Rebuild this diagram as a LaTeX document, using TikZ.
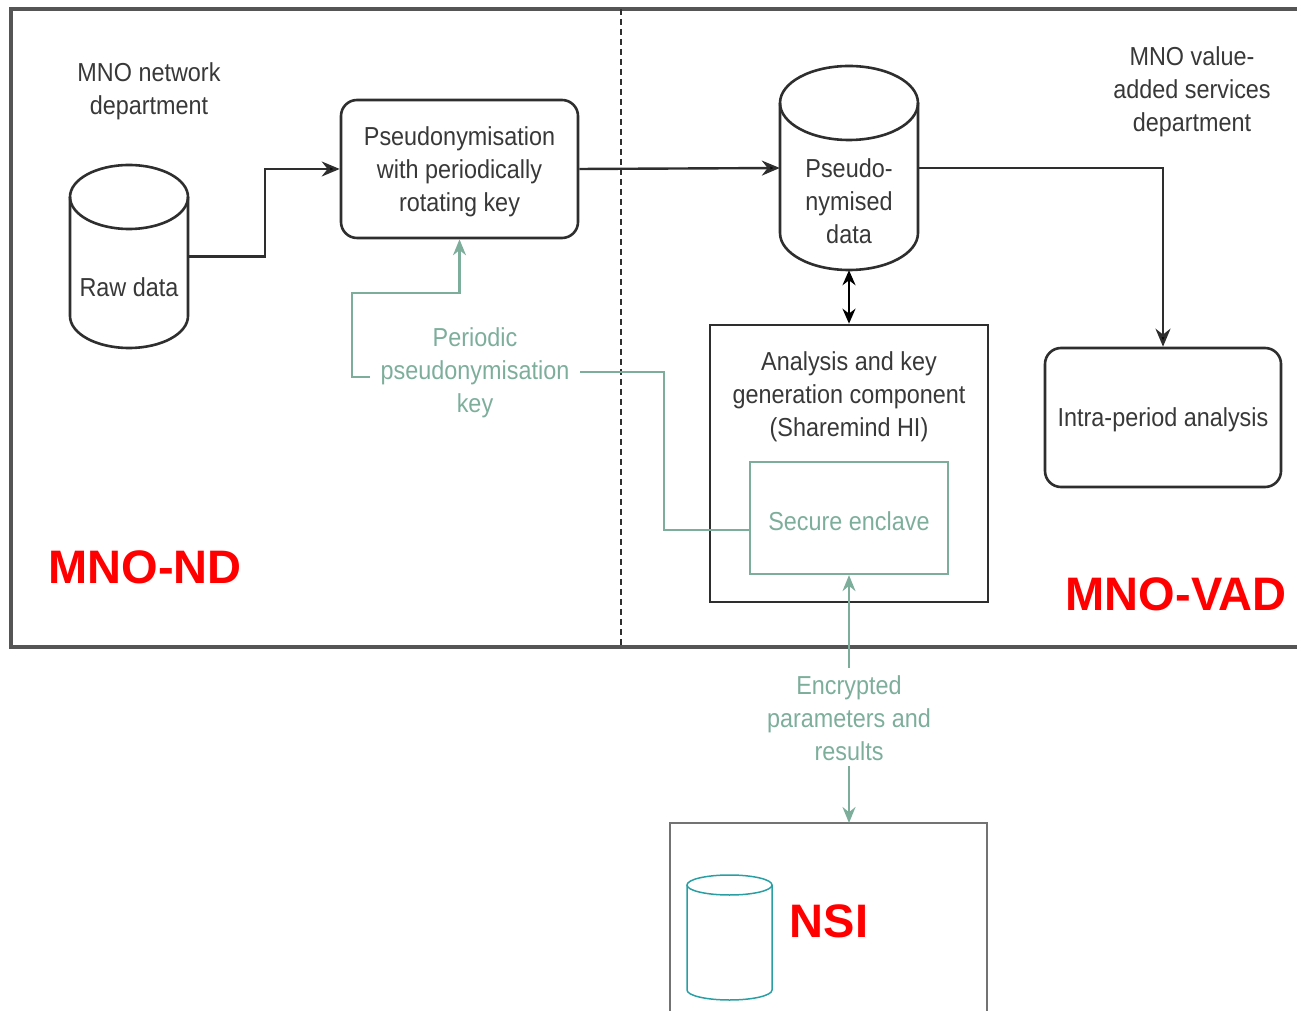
\documentclass[tikz,border=0pt]{standalone}
\usepackage{fontspec}
\setmainfont{Liberation Sans}[FakeStretch=0.9]
\newfontfamily\redfont{Liberation Sans}
\usetikzlibrary{arrows.meta}
\definecolor{txtgray}{HTML}{383838}
\definecolor{linegray}{HTML}{2E2E2E}
\definecolor{framegray}{HTML}{555555}
\definecolor{gr}{HTML}{7DAE9C}
\definecolor{teal}{HTML}{2A9FA3}
\definecolor{redlbl}{HTML}{FF0000}
\tikzset{
  x=1pt,y=1pt,
  txt/.style={align=center,text=txtgray,font=\fontsize{26}{33}\selectfont,inner sep=0},
  gtxt/.style={align=center,text=gr,font=\fontsize{26}{33}\selectfont,inner sep=0},
  rbox/.style={draw=linegray,line width=2.6pt,rounded corners=16pt,inner sep=0},
  sbox/.style={draw=linegray,line width=2.6pt,inner sep=0},
  ghost/.style={inner sep=0,draw=none},
  arr/.style={draw=linegray,line width=2.4pt,-{Stealth[length=18pt,width=15pt,fill=black]}},
  darr/.style={draw=black,line width=2.4pt,{Stealth[length=15pt,width=13pt]}-{Stealth[length=15pt,width=13pt]}},
  garr/.style={draw=gr,line width=2.2pt},
  garrow/.style={draw=gr,line width=2.2pt,-{Stealth[length=16pt,width=13pt]}},
  redtxt/.style={text=redlbl,font=\redfont\bfseries\fontsize{47}{50}\selectfont,inner sep=0},
}
\begin{document}
\begin{tikzpicture}
\useasboundingbox (0,0) rectangle (1297,1010);
% outer frame
\draw[framegray,line width=3.2pt] (1300,1001) -- (11,1001) -- (11,363) -- (1300,363);
\draw[linegray,line width=2.4pt,dash pattern=on 6pt off 4pt] (621,1001) -- (621,363);

% department labels
\node[txt] (ndlbl) at (149,919) {MNO network\\department};
\node[txt] (vadlbl) at (1192,918) {MNO value-\\added services\\department};

% raw data cylinder
\node[ghost,minimum width=118,minimum height=183] (rawd) at (129,753.5) {};
\draw[linegray,line width=2.6pt] (70,813) -- (70,694) arc[start angle=180,end angle=360,x radius=59,y radius=32] -- (188,813);
\draw[linegray,line width=2.6pt] (129,813) ellipse[x radius=59,y radius=32];
\node[txt] (rawtxt) at (129,723) {Raw data};

% pseudonymisation box
\node[rbox,minimum width=237,minimum height=138] (pseudo) at (459.5,841) {};
\node[txt] (pseudotxt) at (459.5,838) {Pseudonymisation\\with periodically\\rotating key};

% pseudonymised data cylinder
\node[ghost,minimum width=138,minimum height=204] (pdata) at (849,842) {};
\draw[linegray,line width=2.6pt] (780,907) -- (780,777) arc[start angle=180,end angle=360,x radius=69,y radius=37] -- (918,907);
\draw[linegray,line width=2.6pt] (849,907) ellipse[x radius=69,y radius=37];
\node[txt] (pdatatxt) at (849,809) {Pseudo-\\nymised\\data};

% analysis box
\node[sbox,minimum width=278,minimum height=277] (analysis) at (849,546.5) {};
\node[txt] (analysistxt) at (849,613) {Analysis and key\\generation component\\(Sharemind HI)};
\node[draw=gr,line width=2.2pt,inner sep=0,minimum width=198,minimum height=112] (enclave) at (849,492) {};
\node[gtxt] (enclavetxt) at (849,489) {Secure enclave};

% intra-period box
\node[rbox,minimum width=236,minimum height=139] (intra) at (1163,592.5) {};
\node[txt] (intratxt) at (1163,590) {Intra-period analysis};

% NSI box
\draw[gray!90!black,line width=1.5pt] (670,-5) -- (670,187) -- (987,187) -- (987,-5);
\coordinate (nsitop) at (849,187);
\node[ghost,minimum width=85,minimum height=125] (nsicyl) at (729.5,72.5) {};
\draw[teal,line width=1.5pt] (687,125) -- (687,20) arc[start angle=180,end angle=360,x radius=42.5,y radius=10] -- (772,125);
\draw[teal,line width=1.5pt] (729.5,125) ellipse[x radius=42.5,y radius=10];

% red labels
\node[redtxt] (mnond) at (145,443) {MNO-ND};
\node[redtxt,anchor=east] (mnovad) at (1287,416) {MNO-VAD};
\node[redtxt] (nsi) at (829,89) {NSI};

% black connectors
\draw[arr] (rawd.east) -- (265,753.5) |- (pseudo.west);
\draw[arr] (pseudo.east) -- (pdata.west);
\draw[arr] (pdata.east) -| (intra.north);
\draw[darr] (pdata.south) -- (analysis.north);

% green key connector
\node[gtxt] (keylbl) at (475,637) {Periodic\\pseudonymisation\\key};
\draw[garr] ([yshift=-12pt]enclave.west) -- (664,480) -- (664,638) -- (580,638);
\draw[garrow] (370,633) -- (352,633) -- (352,717) -| (pseudo.south);

% encrypted connector
\node[gtxt] (enclbl) at (849,292) {Encrypted\\parameters and\\results};
\draw[garrow] (849,342) -- (enclave.south);
\draw[garrow] (849,244) -- (nsitop);
\end{tikzpicture}
\end{document}
